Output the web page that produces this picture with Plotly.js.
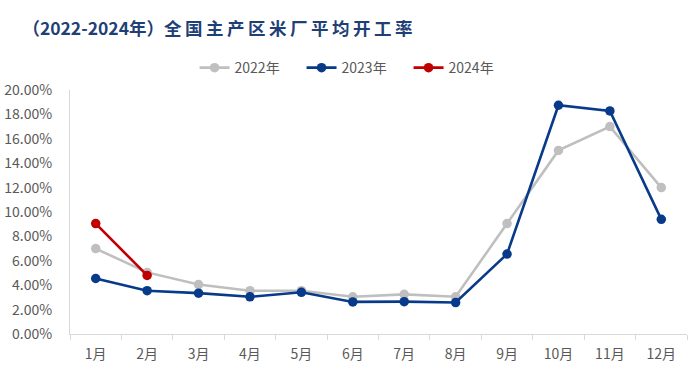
<!DOCTYPE html>
<html><head><meta charset="utf-8">
<script src="https://cdn.plot.ly/plotly-3.0.1.min.js"></script>
<style>body{margin:0;background:#fff}#c{width:700px;height:391px}</style>
</head><body><div id="c"></div>
<script>
const months = ['1月','2月','3月','4月','5月','6月','7月','8月','9月','10月','11月','12月'];
const s2022 = [7.0,5.05,4.05,3.55,3.55,3.05,3.25,3.05,9.05,15.05,17.0,12.0];
const s2023 = [4.55,3.55,3.35,3.05,3.42,2.63,2.65,2.58,6.55,18.75,18.28,9.4];
const s2024 = [9.05,4.8];
const names = ['2022年','2023年','2024年'];
const titleText = '（2022-2024年）全 国 主 产 区 米 厂 平 均 开 工 率';
const colors = ['#BFBFBF','#083A8A','#C00000'];
const ticksY = [0,2,4,6,8,10,12,14,16,18,20];
const data = [s2022,s2023,s2024].map((s,i)=>({
  x: months.slice(0,s.length), y: s.map(v=>v/100), name: names[i], type:'scatter', mode:'lines+markers',
  line:{color:colors[i], width:2.6}, marker:{color:colors[i], size:9.5}
}));
const layout = {
  width:700, height:391, margin:{l:70,r:13,t:90,b:57},
  paper_bgcolor:'#fff', plot_bgcolor:'#fff',
  font:{family:'"Noto Sans CJK SC", "Open Sans", sans-serif', color:'#595959', size:14},
  title:{text:titleText.replace(/ /g,'\u2009'), x:0.032, xanchor:'left', y:0.925, yanchor:'middle',
    font:{family:'"Noto Sans CJK SC", sans-serif', size:17.5, color:'#1F3F77', weight:'bold'}},
  showlegend:true,
  legend:{orientation:'h', x:0.462, xanchor:'center', y:1.09, yanchor:'middle',
    entrywidth:62, entrywidthmode:'pixels', font:{size:14,color:'#595959'}, traceorder:'normal'},
  xaxis:{type:'category', categoryorder:'array', categoryarray:months, showline:true, linecolor:'#D9D9D9', linewidth:1,
    ticks:'outside', tickson:'boundaries', ticklen:5, tickcolor:'#D9D9D9', showgrid:false, zeroline:false,
    tickfont:{size:14,color:'#595959'}, range:[-0.5,11.5], ticklabelstandoff:7, tickangle:0},
  yaxis:{range:[0,0.2], tickvals:ticksY.map(v=>v/100), ticktext:ticksY.map(v=>v.toFixed(2)+'%'),
    showline:true, linecolor:'#D9D9D9', showgrid:false, zeroline:false, ticks:'', tickfont:{size:14,color:'#595959'},
    ticklabelstandoff:14},
};
Plotly.newPlot('c', data, layout, {displayModeBar:false, staticPlot:true});
</script></body></html>
